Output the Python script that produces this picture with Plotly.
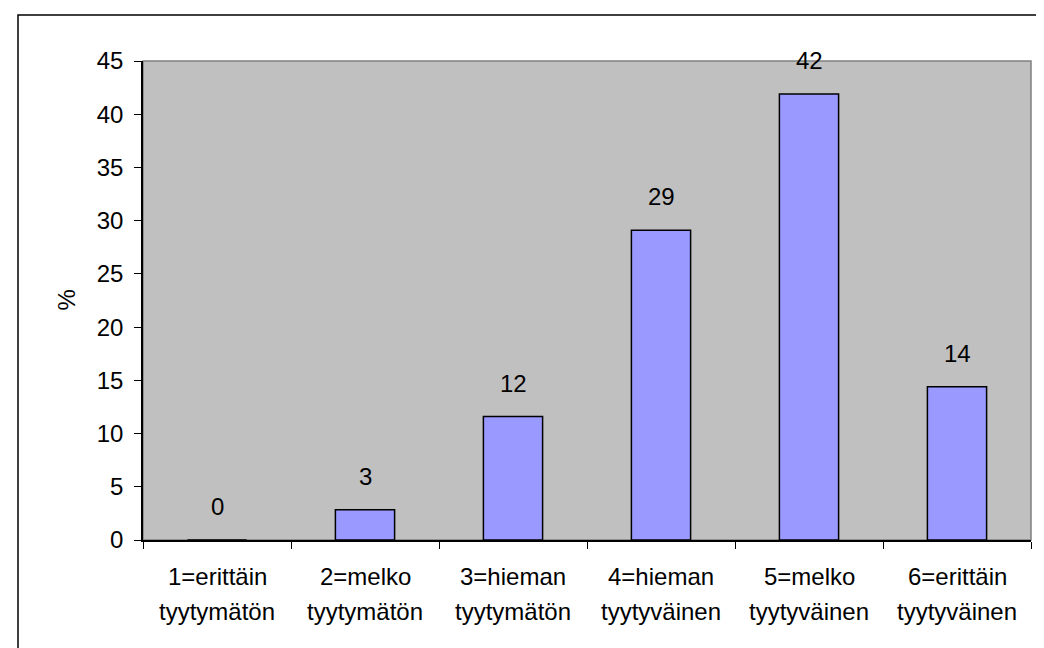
import plotly.graph_objects as go

categories = ["1=erittäin tyytymätön", "2=melko tyytymätön", "3=hieman tyytymätön",
              "4=hieman tyytyväinen", "5=melko tyytyväinen", "6=erittäin tyytyväinen"]
label_line1 = ["1=erittäin", "2=melko", "3=hieman", "4=hieman", "5=melko", "6=erittäin"]
label_line2 = ["tyytymätön", "tyytymätön", "tyytymätön", "tyytyväinen", "tyytyväinen", "tyytyväinen"]
values = [0, 2.85, 11.6, 29.1, 41.9, 14.4]
value_labels = ["0", "3", "12", "29", "42", "14"]
y_ticks = [0, 5, 10, 15, 20, 25, 30, 35, 40, 45]

FONT = "Arial, 'Liberation Sans', sans-serif"
FS = 24
W, H = 1044, 648
L, R, T, B = 135, 21, 53, 116
pw, ph = W - L - R, H - T - B

def px_x(x):
    return (x - L) / pw

def px_y(y):
    return (H - B - y) / ph

fig = go.Figure()
fig.add_trace(go.Bar(
    x=categories, y=values,
    marker=dict(color="#9999FF", line=dict(color="black", width=1.5)),
    hoverinfo="skip",
))

annotations = []
for c, v, t in zip(categories, values, value_labels):
    annotations.append(dict(x=c, y=v, xref="x", yref="y", text=t, showarrow=False,
                            yanchor="bottom", yshift=18,
                            font=dict(family=FONT, size=FS, color="black")))
for c, l1, l2 in zip(categories, label_line1, label_line2):
    annotations.append(dict(x=c, y=px_y(568), xref="x", yref="paper", text=l1, showarrow=False,
                            yanchor="middle", font=dict(family=FONT, size=FS, color="black")))
    annotations.append(dict(x=c, y=px_y(603), xref="x", yref="paper", text=l2, showarrow=False,
                            yanchor="middle", font=dict(family=FONT, size=FS, color="black")))
annotations.append(dict(x=px_x(58), y=0.5, xref="paper", yref="paper", text="%", showarrow=False,
                        textangle=-90, xanchor="center", yanchor="middle",
                        font=dict(family=FONT, size=FS, color="black")))

shapes = [
    dict(type="rect", xref="paper", yref="paper", x0=0, x1=1, y0=0, y1=1,
         line=dict(color="#808080", width=1.5), layer="below"),
    dict(type="rect", xref="paper", yref="paper", x0=px_x(10), x1=px_x(1042),
         y0=px_y(660), y1=px_y(7), line=dict(color="black", width=1.5), layer="above"),
]

fig.update_layout(
    width=W, height=H,
    margin=dict(l=L, r=R, t=T, b=B, autoexpand=False),
    paper_bgcolor="white", plot_bgcolor="#C0C0C0",
    bargap=0.6, showlegend=False,
    font=dict(family=FONT, size=FS, color="black"),
    annotations=annotations, shapes=shapes,
)
fig.update_xaxes(
    type="category", showticklabels=False, tickson="boundaries",
    ticks="outside", ticklen=7, tickcolor="black", tickwidth=1,
    showline=True, linecolor="black", linewidth=1.5, showgrid=False, zeroline=False,
)
fig.update_yaxes(
    range=[0, 45], tickvals=y_ticks, ticks="outside", ticklen=7, tickcolor="black",
    tickwidth=1, showline=True, linecolor="black", linewidth=1.5, showgrid=False,
    zeroline=False, ticklabelstandoff=6,
    tickfont=dict(family=FONT, size=FS, color="black"),
)

fig.write_html("out.html")
